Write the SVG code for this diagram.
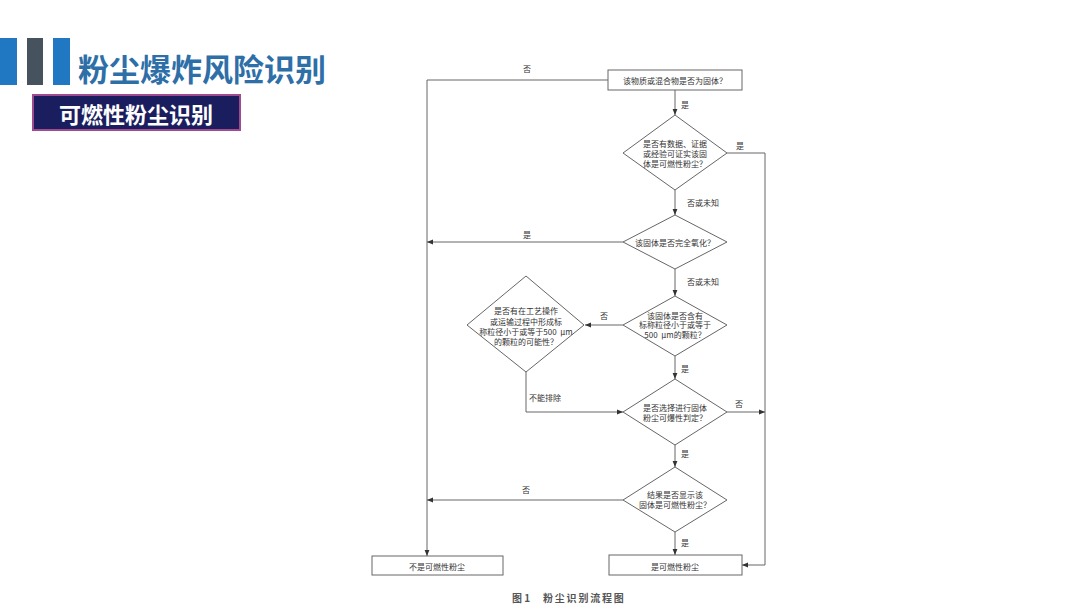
<svg xmlns="http://www.w3.org/2000/svg" width="1080" height="608" viewBox="0 0 1080 608">
<defs>
<marker id="arr" viewBox="0 0 10 10" refX="10" refY="5" markerWidth="6" markerHeight="6" markerUnits="userSpaceOnUse" orient="auto">
<path d="M0,1 L10,5 L0,9 z" fill="#333"/>
</marker>
<style>
.t{font-family:"Noto Sans CJK SC","Liberation Serif",serif;font-size:8px;fill:#333;text-anchor:middle;dominant-baseline:central}
.shape{fill:#fff;stroke:#666;stroke-width:1}
.ln{fill:none;stroke:#666;stroke-width:1}
.la{fill:none;stroke:#666;stroke-width:1;marker-end:url(#arr)}
.cap{font-family:"Noto Sans CJK SC",sans-serif;font-size:10px;font-weight:bold;fill:#555;dominant-baseline:central}
</style>
</defs>
<rect x="0" y="0" width="1080" height="608" fill="#fff"/>
<g id="header">
<rect x="0" y="38" width="17" height="47" fill="#1f78c1"/>
<rect x="27" y="38" width="16" height="47" fill="#46535f"/>
<rect x="53" y="38" width="17" height="47" fill="#1f78c1"/>
<text x="78" y="67" font-family="Noto Sans CJK SC, sans-serif" font-size="31" font-weight="bold" fill="#2e6fa8" dominant-baseline="central">粉尘爆炸风险识别</text>
<rect x="33" y="95" width="207" height="35" fill="#1b1e5e" stroke="#a04a90" stroke-width="2"/>
<text x="136" y="112.5" font-family="Noto Sans CJK SC, sans-serif" font-size="22" font-weight="bold" fill="#fff" text-anchor="middle" dominant-baseline="central">可燃性粉尘识别</text>
</g>
<g id="connectors">
<polyline class="la" points="608,80 427,80 427,556"/>
<line class="la" x1="675" y1="90" x2="675" y2="115"/>
<polyline class="la" points="727,153 765,153 765,565 742,565"/>
<line class="la" x1="675" y1="190" x2="675" y2="215"/>
<line class="la" x1="623" y1="242" x2="427" y2="242"/>
<line class="la" x1="675" y1="269" x2="675" y2="296"/>
<line class="la" x1="623" y1="325" x2="585" y2="325"/>
<polyline class="la" points="526,372 526,412 623,412"/>
<line class="la" x1="675" y1="356" x2="675" y2="379"/>
<line class="la" x1="727" y1="412" x2="765" y2="412"/>
<line class="la" x1="675" y1="445" x2="675" y2="467"/>
<line class="la" x1="623" y1="500" x2="427" y2="500"/>
<line class="la" x1="675" y1="532" x2="675" y2="555"/>
<text class="t" x="527" y="68">否</text>
<text class="t" x="685" y="104">是</text>
<text class="t" x="740" y="145">是</text>
<text class="t" x="703" y="202">否或未知</text>
<text class="t" x="527" y="234">是</text>
<text class="t" x="703" y="281">否或未知</text>
<text class="t" x="604" y="315">否</text>
<text class="t" x="685" y="368">是</text>
<text class="t" x="545" y="397">不能排除</text>
<text class="t" x="739" y="403">否</text>
<text class="t" x="685" y="453">是</text>
<text class="t" x="526" y="489">否</text>
<text class="t" x="685" y="542">是</text>
</g>
<g id="n1">
<rect class="shape" x="608" y="70" width="134" height="20"/>
<text class="t" x="675" y="80">该物质或混合物是否为固体？</text>
</g>
<g id="n2">
<polygon class="shape" points="675,115 727,153 675,190 623,153"/>
<text class="t" x="675" y="143">是否有数据、证据</text>
<text class="t" x="675" y="153">或经验可证实该固</text>
<text class="t" x="675" y="163">体是可燃性粉尘？</text>
</g>
<g id="n3">
<polygon class="shape" points="675,215 727,242 675,269 623,242"/>
<text class="t" x="675" y="242">该固体是否完全氧化？</text>
</g>
<g id="n4">
<polygon class="shape" points="675,296 727,325 675,356 623,325"/>
<text class="t" x="675" y="315">该固体是否含有</text>
<text class="t" x="675" y="324.5">标称粒径小于或等于</text>
<text class="t" x="675" y="334" xml:space="preserve">500  μm的颗粒？</text>
</g>
<g id="n5">
<polygon class="shape" points="526,276 584,325 526,372 467,325"/>
<text class="t" x="526" y="310">是否有在工艺操作</text>
<text class="t" x="526" y="321">或运输过程中形成标</text>
<text class="t" x="526" y="331" xml:space="preserve">称粒径小于或等于500  μm</text>
<text class="t" x="526" y="341">的颗粒的可能性？</text>
</g>
<g id="n6">
<polygon class="shape" points="675,379 727,412 675,445 623,412"/>
<text class="t" x="675" y="407">是否选择进行固体</text>
<text class="t" x="675" y="417">粉尘可爆性判定？</text>
</g>
<g id="n7">
<polygon class="shape" points="675,467 727,500 675,532 623,500"/>
<text class="t" x="675" y="494">结果是否显示该</text>
<text class="t" x="675" y="504">固体是可燃性粉尘？</text>
</g>
<g id="n8">
<rect class="shape" x="372" y="556" width="131" height="19"/>
<text class="t" x="437" y="566">不是可燃性粉尘</text>
</g>
<g id="n9">
<rect class="shape" x="609" y="555" width="133" height="20"/>
<text class="t" x="675" y="566">是可燃性粉尘</text>
</g>
<g id="caption">
<text class="cap" x="512" y="597" xml:space="preserve">图 1</text>
<text class="cap" x="543" y="597" letter-spacing="1.8">粉尘识别流程图</text>
</g>
</svg>
